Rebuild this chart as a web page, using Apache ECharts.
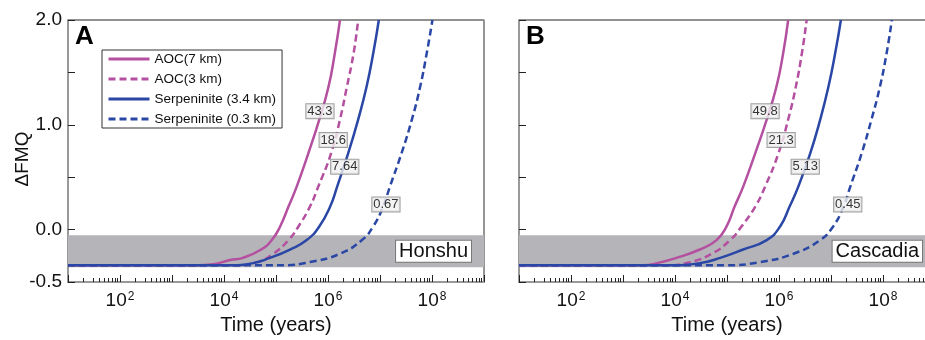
<!DOCTYPE html>
<html><head><meta charset="utf-8">
<script src="https://cdn.jsdelivr.net/npm/echarts@6/dist/echarts.min.js"></script>
<style>html,body{margin:0;padding:0;background:#fff}#c{width:925px;height:340px}</style>
</head><body><div id="c"></div>
<script>
// ---- data (time in years, ΔFMQ) ----
const seriesNames = ['AOC(7 km)', 'AOC(3 km)', 'Serpeninite (3.4 km)', 'Serpeninite (0.3 km)'];
const panelNames = ['Honshu', 'Cascadia'];

const honshuAOC7 = [[10,-0.34],[3000,-0.34],[6.2e3,-0.33],[1.3e4,-0.29],[2.3e4,-0.27],[5.2e4,-0.19],[8.3e4,-0.10],[1.2e5,0.03],[1.74e5,0.22],[2.5e5,0.41],[4.2e5,0.73],[6.8e5,1.05],[1.02e6,1.36],[1.35e6,1.68],[1.7e6,2.0]];
const honshuAOC3 = [[10,-0.34],[1.7e4,-0.34],[4.3e4,-0.31],[8.9e4,-0.23],[1.74e5,-0.10],[2.7e5,0.03],[4.5e5,0.22],[6.5e5,0.41],[1.15e6,0.73],[1.7e6,1.05],[2.3e6,1.36],[3.1e6,1.68],[3.8e6,2.0]];
const honshuSerp34 = [[10,-0.34],[1.3e4,-0.34],[3.6e4,-0.32],[7.6e4,-0.27],[1.86e5,-0.19],[3.9e5,-0.10],[6.8e5,0.03],[1.1e6,0.22],[1.5e6,0.41],[2.45e6,0.73],[3.8e6,1.05],[5.5e6,1.36],[7.4e6,1.68],[9.5e6,2.0]];
const honshuSerp03 = [[10,-0.34],[1.4e5,-0.34],[4.5e5,-0.31],[1.7e6,-0.23],[4.5e6,-0.10],[7.4e6,0.03],[1.15e7,0.22],[1.55e7,0.41],[2.6e7,0.73],[4.1e7,1.05],[5.9e7,1.36],[7.9e7,1.68],[1.02e8,2.0]];

const cascadiaAOC7 = [[10,-0.34],[2.5e3,-0.34],[4.5e3,-0.32],[1.07e4,-0.27],[3.0e4,-0.19],[6.3e4,-0.10],[9.8e4,0.03],[1.4e5,0.22],[2.05e5,0.41],[3.5e5,0.73],[5.8e5,1.05],[8.9e5,1.36],[1.2e6,1.68],[1.5e6,2.0]];
const cascadiaAOC3 = [[10,-0.34],[6.9e3,-0.34],[1.95e4,-0.31],[5.1e4,-0.23],[1.15e5,-0.10],[1.9e5,0.03],[3.5e5,0.22],[5.4e5,0.41],[9.8e5,0.73],[1.5e6,1.05],[2.1e6,1.36],[2.75e6,1.68],[3.4e6,2.0]];
const cascadiaSerp34 = [[10,-0.34],[8.0e3,-0.34],[3.0e4,-0.32],[7.4e4,-0.27],[2.05e5,-0.19],[5.8e5,-0.10],[1.05e6,0.03],[1.6e6,0.22],[2.35e6,0.41],[4.0e6,0.73],[6.2e6,1.05],[8.9e6,1.36],[1.2e7,1.68],[1.55e7,2.0]];
const cascadiaSerp03 = [[10,-0.34],[9.8e4,-0.34],[4.3e5,-0.31],[1.9e6,-0.23],[6.2e6,-0.10],[1.1e7,0.03],[1.74e7,0.22],[2.35e7,0.41],[3.9e7,0.73],[6.0e7,1.05],[8.7e7,1.36],[1.17e8,1.68],[1.48e8,2.0]];

// boxed numbers along the curves
const honshuNoteText = ['43.3', '18.6', '7.64', '0.67'];
const honshuNoteTime = [7.0e5, 1.26e6, 2.1e6, 1.3e7];
const cascadiaNoteText = ['49.8', '21.3', '5.13', '0.45'];
const cascadiaNoteTime = [5.4e5, 1.1e6, 3.2e6, 2.1e7];
const noteValue = [1.13, 0.855, 0.6, 0.24];

// gray band (ΔFMQ range)
const bandRange = [-0.36, -0.055];

// axes
const xMin = 10, xMax = 1e9;
const xMajorTicks = [10, 100, 1e3, 1e4, 1e5, 1e6, 1e7, 1e8, 1e9];
const xLabelTicks = [100, 1e4, 1e6, 1e8];
const yLabelTicks = [2.0, 1.0, 0.0, -0.5];

// minor ticks 2..9 of each decade
const xMinorTicks = [];
for (let d = 10; d < xMax; d *= 10) for (let k = 2; k <= 9; k++) xMinorTicks.push(k * d);

// ---- style ----
const PINK = '#b4509f', BLUE = '#2a47a6';
const FONT = 'Liberation Sans, Arial, Helvetica, sans-serif';
const colors = [PINK, PINK, BLUE, BLUE];
const dashes = ['solid', [7, 4], 'solid', [7, 4]];

const grids = [
  { left: 68, top: 20, width: 416, height: 262 },
  { left: 519, top: 20, width: 416, height: 262 }
];

function xAxes(gi) {
  return [
    {
      type: 'log', logBase: 10, gridIndex: gi, min: xMin, max: xMax, position: 'bottom',
      name: 'Time (years)', nameLocation: 'middle', nameGap: 33,
      nameTextStyle: { fontSize: 20, color: '#111', fontFamily: FONT },
      axisLine: { show: true, onZero: false, lineStyle: { color: '#999', width: 2 } },
      axisTick: { show: true, inside: true, length: 7, customValues: xMajorTicks, lineStyle: { color: '#222', width: 1 } },
      axisLabel: {
        show: true, margin: 9, customValues: xLabelTicks,
        formatter: v => '{b|10}{s|' + Math.round(Math.log10(v)) + '}',
        rich: {
          b: { fontSize: 19, color: '#111', fontFamily: FONT, lineHeight: 20 },
          s: { fontSize: 12, color: '#111', fontFamily: FONT, verticalAlign: 'top', lineHeight: 12, padding: [0, 0, 0, 1] }
        }
      },
      splitLine: { show: false }, minorTick: { show: false }
    },
    {
      type: 'log', logBase: 10, gridIndex: gi, min: xMin, max: xMax, position: 'bottom',
      axisLine: { show: false, onZero: false },
      axisTick: { show: true, inside: true, length: 4, customValues: xMinorTicks, lineStyle: { color: '#222', width: 1 } },
      axisLabel: { show: false }, splitLine: { show: false }
    }
  ];
}
function yAxes(gi, showLabels) {
  return [
    {
      type: 'value', gridIndex: gi, min: -0.5, max: 2.0, interval: 0.5, position: 'left',
      name: showLabels ? '\u0394FMQ' : '', nameLocation: 'middle', nameGap: 36, nameRotate: 90,
      nameMoveOverlap: false,
      nameTextStyle: { fontSize: 19, color: '#111', fontFamily: FONT, padding: [0, 0, 0, -16] },
      axisLine: { show: true, onZero: false, lineStyle: { color: '#999', width: 2 } },
      axisTick: { show: true, inside: true, length: 7, lineStyle: { color: '#222', width: 1 } },
      axisLabel: {
        show: showLabels, margin: 6, fontSize: 19, color: '#111', fontFamily: FONT,
        formatter: v => (yLabelTicks.indexOf(v) >= 0 ? v.toFixed(1) : '')
      },
      splitLine: { show: false }
    },
    {
      type: 'value', gridIndex: gi, min: -0.5, max: 2.0, interval: 0.5, position: 'right',
      axisLine: { show: true, onZero: false, lineStyle: { color: '#999', width: 1.5 } },
      axisTick: { show: false }, axisLabel: { show: false }, splitLine: { show: false }
    }
  ];
}

const panelData = [
  [honshuAOC7, honshuAOC3, honshuSerp34, honshuSerp03],
  [cascadiaAOC7, cascadiaAOC3, cascadiaSerp34, cascadiaSerp03]
];
const panelNotes = [[honshuNoteText, honshuNoteTime], [cascadiaNoteText, cascadiaNoteTime]];

const series = [];
panelData.forEach((curves, p) => {
  curves.forEach((d, i) => {
    const s = {
      name: seriesNames[i], type: 'line', xAxisIndex: p * 2, yAxisIndex: p * 2,
      data: d, smooth: 0.5, showSymbol: false, symbol: 'none',
      lineStyle: { color: colors[i], width: 2.5, type: dashes[i] },
      itemStyle: { color: colors[i] }, z: 3, silent: true
    };
    if (i === 0) {
      s.markArea = {
        silent: true, z: 1,
        itemStyle: { color: '#b4b4b9', opacity: 1 },
        label: {
          show: true, position: 'insideRight', distance: 13,
          fontSize: 20, color: '#111', fontFamily: FONT,
          backgroundColor: '#fff', borderColor: '#777', borderWidth: 1, padding: [1, 3, 0, 3]
        },
        data: [[{ name: panelNames[p], xAxis: xMin, yAxis: bandRange[0] }, { xAxis: xMax, yAxis: bandRange[1] }]]
      };
    }
    series.push(s);
  });
  const [txt, tm] = panelNotes[p];
  series.push({
    type: 'scatter', xAxisIndex: p * 2, yAxisIndex: p * 2, z: 6, silent: true,
    symbol: 'rect', symbolSize: 1, itemStyle: { color: 'rgba(0,0,0,0)' },
    data: txt.map((t, k) => ({ value: [tm[k], noteValue[k]], name: t })),
    label: {
      show: true, position: 'inside', formatter: '{b}', fontSize: 13, color: '#000', fontFamily: FONT,
      backgroundColor: '#f0f0f0', borderColor: '#8a8a8a', borderWidth: 1, padding: [1, 1, 0, 1]
    }
  });
});

const chart = echarts.init(document.getElementById('c'), null, { renderer: 'canvas' });
chart.setOption({
  animation: false,
  backgroundColor: '#fff',
  grid: grids.map(g => Object.assign({ show: true, borderColor: '#222', borderWidth: 1, backgroundColor: 'transparent', outerBoundsMode: 'none', containLabel: false }, g)),
  xAxis: [...xAxes(0), ...xAxes(1)],
  yAxis: [...yAxes(0, true), ...yAxes(1, false)],
  legend: {
    left: 102, top: 50, orient: 'vertical', data: seriesNames,
    itemWidth: 41, itemHeight: 14, itemGap: 6, padding: [2, 6, 2, 5],
    borderColor: '#333', borderWidth: 1, backgroundColor: '#fff',
    textStyle: { fontSize: 13.5, color: '#111', fontFamily: FONT },
    lineStyle: { width: 3 }, itemStyle: { opacity: 0, borderWidth: 0 }, selectedMode: false
  },
  graphic: [
    { type: 'text', left: 75, top: 24, style: { text: 'A', font: 'bold 26px ' + FONT, fill: '#000' } },
    { type: 'text', left: 526, top: 24, style: { text: 'B', font: 'bold 26px ' + FONT, fill: '#000' } }
  ],
  series: series
});
</script>
</body></html>
